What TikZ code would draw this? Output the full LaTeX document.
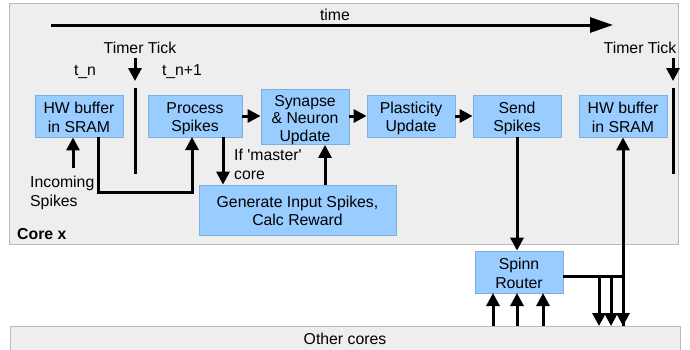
\documentclass[tikz,border=0pt]{standalone}
\usepackage{fontspec}
\setmainfont{Liberation Sans}
\usetikzlibrary{arrows.meta,calc}
\definecolor{boxfill}{HTML}{99CCFF}
\definecolor{boxline}{HTML}{7FAFE0}
\definecolor{bgfill}{HTML}{EEEEEE}
\definecolor{bgline}{HTML}{BBBBBB}
\newcommand\tpst{\rule{0pt}{16.5bp}}
\newcommand\btst{\rule[-3bp]{0pt}{3bp}}
\begin{document}
\begin{tikzpicture}[x=1bp,y=-1bp,
  every node/.style={font=\fontsize{15.8bp}{18.5bp}\selectfont, inner sep=0pt},
  blk/.style={draw=boxline, fill=boxfill, line width=0.8bp, align=center},
  arr/.style={line width=3bp, -{Triangle[length=13bp,width=13bp]}},
  ln/.style={line width=3bp}]
\useasboundingbox (0,0) rectangle (690,349);
% backgrounds
\node[draw=bgline, fill=bgfill, line width=1bp, minimum width=669bp, minimum height=241bp, anchor=north west] (core) at (9,3) {};
\node[draw=bgline, fill=bgfill, line width=1bp, minimum width=670bp, minimum height=40bp, anchor=north west] (other) at (10,326) {};
\node at (345,338.5) {Other cores};
\node[anchor=west, font=\fontsize{15.8bp}{18.5bp}\selectfont\bfseries] (corex) at (17,234) {Core x};
% time axis
\coordinate (t0) at (51,25);
\coordinate (t1) at (613,25);
\draw[line width=3bp, -{Triangle[length=23bp,width=15bp]}] (t0) -- (t1);
\node (time) at (335,15) {time};
% timer ticks
\node (tt1) at (140,48) {Timer Tick};
\node (tt2) at (640,48) {Timer Tick};
\coordinate (a1) at (135,58); \coordinate (b1) at (135,81);
\coordinate (c1) at (135,88); \coordinate (d1) at (135,174);
\draw[arr] (a1) -- (b1);
\draw[ln] (c1) -- (d1);
\coordinate (a2) at (673,58); \coordinate (b2) at (673,81);
\coordinate (c2) at (673,88); \coordinate (d2) at (673,174);
\draw[arr] (a2) -- (b2);
\draw[ln] (c2) -- (d2);
\node (tn) at (85,72) {t\_n};
\node (tn1) at (182,72) {t\_n+1};
% blocks
\node[blk, minimum width=88bp, minimum height=42bp] (hw1) at (79,116) {\tpst HW buffer\\in SRAM\btst};
\node[blk, minimum width=94bp, minimum height=42bp] (proc) at (195,116) {\tpst Process\\Spikes\btst};
\node[blk, minimum width=88bp, minimum height=54bp, font=\fontsize{15.8bp}{17.6bp}\selectfont] (syn) at (305,117) {\tpst Synapse\\\& Neuron\\Update\btst};
\node[blk, minimum width=88bp, minimum height=42bp] (plas) at (411,116) {\tpst Plasticity\\Update\btst};
\node[blk, minimum width=88bp, minimum height=42bp] (send) at (517,116) {\tpst Send\\Spikes\btst};
\node[blk, minimum width=88bp, minimum height=42bp] (hw2) at (623,116) {\tpst HW buffer\\in SRAM\btst};
\node[blk, minimum width=197bp, minimum height=50bp, font=\fontsize{15.8bp}{17.6bp}\selectfont] (gen) at (297.5,210) {\tpst Generate Input Spikes,\\Calc Reward\btst};
\node[blk, minimum width=88bp, minimum height=42bp] (router) at (519,272) {\tpst Spinn\\Router\btst};
% labels
\node[align=left, anchor=west] (inc) at (30,193) {Incoming\\Spikes};
\node[align=left, anchor=west] (mst) at (234,164.5) {If \textquotesingle master\textquotesingle\\core};
% connectors
\coordinate (incsrc) at (73,168);
\draw[arr] (incsrc) -- (incsrc |- hw1.south);
\coordinate (hwout) at (98,137);
\coordinate (procin) at (192,137);
\draw[arr] (hwout) -- ++(0,55) -| (procin);
\draw[arr] (proc.east) -- (proc.east -| syn.west);
\draw[arr] (syn.east |- plas.west) -- (plas.west);
\draw[arr] (plas.east) -- (send.west);
\coordinate (procout) at (223,137);
\draw[arr] (procout) -- (procout |- gen.north);
\coordinate (genout) at (325,185);
\draw[arr] (genout) -- (genout |- syn.south);
\draw[arr] (send.south) -- (send.south |- router.north);
% router outputs
\coordinate (rt) at (623,276);
\coordinate (rtout) at (563,276);
\draw[ln] (rtout) -- (rt);
\draw[arr] (rt |- other.north) -- (hw2.south);
\foreach \xx in {599,611,623} {
  \draw[arr] (\xx,276) -- (\xx,326);
}
\foreach \xx in {493,517,543} {
  \draw[arr] (\xx,326) -- (\xx,293);
}
\end{tikzpicture}
\end{document}
